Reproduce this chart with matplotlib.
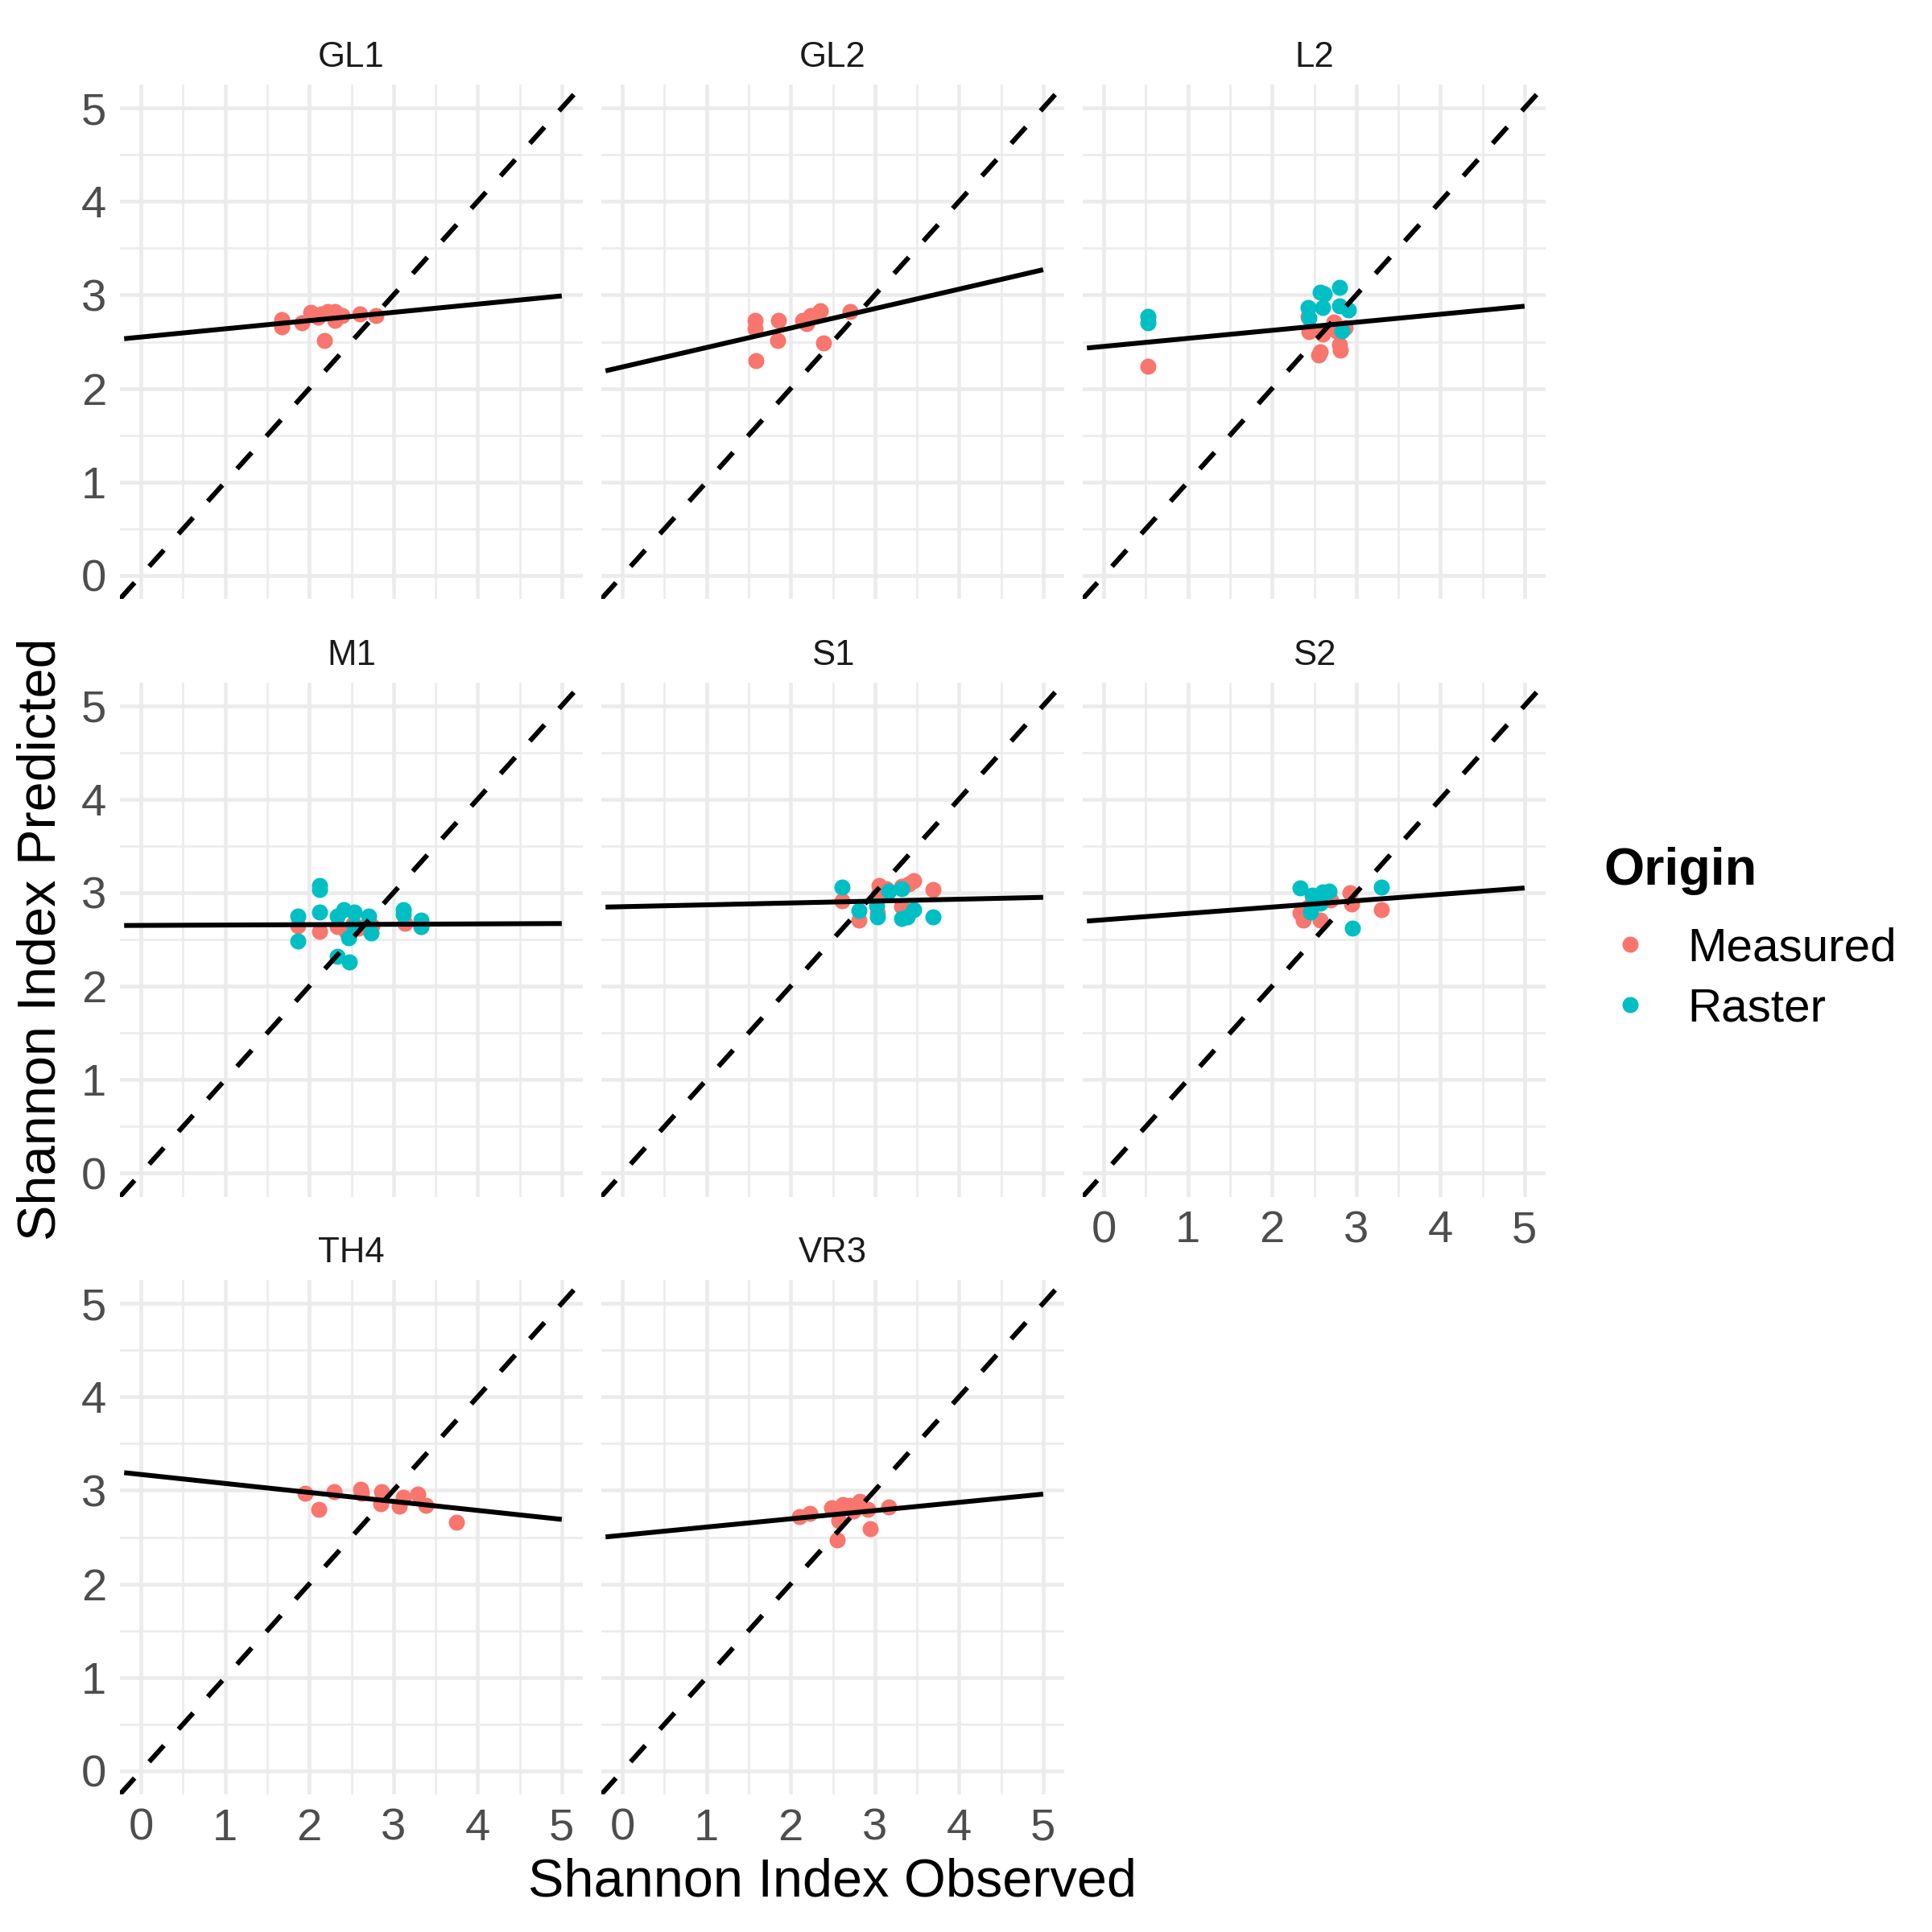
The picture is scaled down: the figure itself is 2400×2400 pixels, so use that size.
import matplotlib

matplotlib.use("Agg")
import matplotlib.pyplot as plt
from matplotlib.lines import Line2D
import numpy as np

plt.rcParams["font.family"] = ["Liberation Sans", "DejaVu Sans"]

MEASURED = "#F8766D"
RASTER = "#00BFC4"

panels = ["GL1", "GL2", "L2", "M1", "S1", "S2", "TH4", "VR3"]

# (observed, predicted)
gl1_measured = [(1.67, 2.74), (1.67, 2.66), (1.91, 2.70), (2.02, 2.81), (2.10, 2.76),
                (2.14, 2.80), (2.22, 2.82), (2.30, 2.82), (2.30, 2.73), (2.39, 2.78),
                (2.18, 2.51), (2.60, 2.80), (2.79, 2.78)]
gl2_measured = [(1.58, 2.73), (1.58, 2.64), (1.59, 2.30), (1.85, 2.73), (1.84, 2.51),
                (2.14, 2.73), (2.19, 2.69), (2.24, 2.78), (2.30, 2.79), (2.35, 2.83),
                (2.39, 2.49), (2.71, 2.82)]
l2_measured = [(0.52, 2.24), (2.43, 2.77), (2.44, 2.61), (2.60, 2.58), (2.55, 2.36),
               (2.57, 2.39), (2.76, 2.62), (2.80, 2.47), (2.81, 2.41), (2.87, 2.65),
               (2.73, 2.71)]
l2_raster = [(0.52, 2.77), (0.52, 2.70), (2.43, 2.87), (2.57, 3.03), (2.62, 3.01),
             (2.60, 2.87), (2.80, 3.08), (2.80, 2.88), (2.91, 2.84), (2.44, 2.75),
             (2.83, 2.62)]
m1_measured = [(1.86, 2.65), (2.12, 2.59), (2.33, 2.64), (2.52, 2.67), (2.58, 2.62),
               (2.66, 2.64), (2.74, 2.65), (3.14, 2.67), (3.33, 2.64), (2.44, 2.59)]
m1_raster = [(1.86, 2.75), (1.86, 2.48), (2.12, 3.08), (2.12, 3.03), (2.12, 2.79),
             (2.33, 2.75), (2.41, 2.82), (2.53, 2.79), (2.47, 2.52), (2.33, 2.32),
             (2.48, 2.26), (2.71, 2.75), (2.73, 2.57), (3.12, 2.82), (3.12, 2.77),
             (3.33, 2.71), (3.33, 2.64), (2.53, 2.65)]
s1_measured = [(2.61, 2.91), (2.81, 2.71), (3.05, 3.08), (3.04, 2.98), (3.14, 3.04),
               (3.03, 2.78), (3.32, 3.07), (3.40, 3.09), (3.46, 3.13), (3.32, 2.85),
               (3.69, 3.03)]
s1_raster = [(2.61, 3.06), (2.81, 2.81), (3.03, 2.74), (3.02, 2.86), (3.16, 3.02),
             (3.32, 3.04), (3.32, 2.72), (3.38, 2.74), (3.46, 2.82), (3.69, 2.74)]
s2_measured = [(2.33, 2.78), (2.37, 2.71), (2.49, 2.92), (2.57, 2.71), (2.60, 2.91),
               (2.70, 2.92), (2.93, 3.00), (2.94, 2.88), (3.30, 2.82), (2.43, 2.84)]
s2_raster = [(2.33, 3.05), (2.48, 2.97), (2.60, 3.01), (2.68, 3.02), (2.46, 2.79),
             (3.30, 3.06), (2.95, 2.62), (2.57, 2.89)]
th4_measured = [(1.95, 2.97), (2.11, 2.80), (2.29, 2.99), (2.61, 3.01), (2.62, 2.97),
                (2.86, 2.99), (2.85, 2.86), (3.12, 2.93), (3.07, 2.83), (3.29, 2.96),
                (3.38, 2.84), (3.75, 2.66)]
vr3_measured = [(2.10, 2.72), (2.23, 2.75), (2.49, 2.81), (2.57, 2.68), (2.62, 2.85),
                (2.70, 2.84), (2.82, 2.88), (2.92, 2.80), (2.94, 2.59), (2.55, 2.47),
                (3.16, 2.82), (2.74, 2.78)]

measured_pts = [gl1_measured, gl2_measured, l2_measured, m1_measured,
                s1_measured, s2_measured, th4_measured, vr3_measured]
raster_pts = [[], [], l2_raster, m1_raster, s1_raster, s2_raster, [], []]

# linear fit read at observed = 0 and observed = 5
fit_at_0 = [2.55, 2.23, 2.45, 2.65, 2.85, 2.71, 3.17, 2.52]
fit_at_5 = [2.99, 3.27, 2.88, 2.67, 2.95, 3.05, 2.69, 2.96]

ticks = [0, 1, 2, 3, 4, 5]

W = H = 2400
fig = plt.figure(figsize=(8, 8), dpi=300)

col_left = [149, 747, 1345]
row_top = [105, 847.5, 1590]
pw, ph = 575, 639

for i, name in enumerate(panels):
    r, c = divmod(i, 3)
    ax = fig.add_axes([col_left[c] / W, 1 - (row_top[r] + ph) / H, pw / W, ph / H])
    ax.set_xlim(-0.25, 5.25)
    ax.set_ylim(-0.25, 5.25)
    for s in ax.spines.values():
        s.set_visible(False)
    ax.set_xticks(ticks)
    ax.set_yticks(ticks)
    ax.set_xticks(np.arange(0.5, 5, 1), minor=True)
    ax.set_yticks(np.arange(0.5, 5, 1), minor=True)
    ax.grid(True, which="major", color="#EBEBEB", lw=1.1)
    ax.grid(True, which="minor", color="#EBEBEB", lw=0.6)
    ax.set_axisbelow(True)
    ax.tick_params(which="both", length=0, labelsize=13.5, labelcolor="#4D4D4D")
    ax.tick_params(axis="y", pad=4)
    ax.tick_params(axis="x", pad=4)
    if c != 0:
        ax.tick_params(axis="y", labelleft=False)
    if not (r == 2 or name == "S2"):
        ax.tick_params(axis="x", labelbottom=False)

    ax.axline((0, 0), slope=1, color="black", lw=1.45, ls=(0, (4.5, 4.5)), zorder=3)
    ax.plot([-0.2, 5], [fit_at_0[i] - 0.2 * (fit_at_5[i] - fit_at_0[i]) / 5, fit_at_5[i]],
            color="black", lw=1.45, solid_capstyle="butt", zorder=4)

    if measured_pts[i]:
        mx, my = zip(*measured_pts[i])
        ax.scatter(mx, my, s=23, color=MEASURED, linewidths=0, zorder=2)
    if raster_pts[i]:
        rx, ry = zip(*raster_pts[i])
        ax.scatter(rx, ry, s=23, color=RASTER, linewidths=0, zorder=2)

    ax.text(0.5, 1 + 22 / ph, name, transform=ax.transAxes, ha="center",
            va="baseline", fontsize=10.5, color="#1A1A1A")

fig.text(1034.5 / W, 1 - 2339 / H, "Shannon Index Observed", ha="center", va="center",
         fontsize=16)
fig.text(52 / W, 1 - 1167 / H, "Shannon Index Predicted", ha="center", va="center",
         rotation=90, fontsize=16)

fig.text(1992 / W, 1 - 1082 / H, "Origin", ha="left", va="center",
         fontsize=15.5, fontweight="bold")
handles = [Line2D([], [], ls="", marker="o", ms=4.8, color=MEASURED, mew=0),
           Line2D([], [], ls="", marker="o", ms=4.8, color=RASTER, mew=0)]
fig.legend(handles, ["Measured", "Raster"], loc="center left",
           bbox_to_anchor=(1996 / W, 1 - 1216 / H), frameon=False, fontsize=14.0,
           handletextpad=0.72, labelspacing=0.35, handlelength=1.0,
           borderpad=0, borderaxespad=0)

fig.savefig("out.png", dpi=300, facecolor="white")
